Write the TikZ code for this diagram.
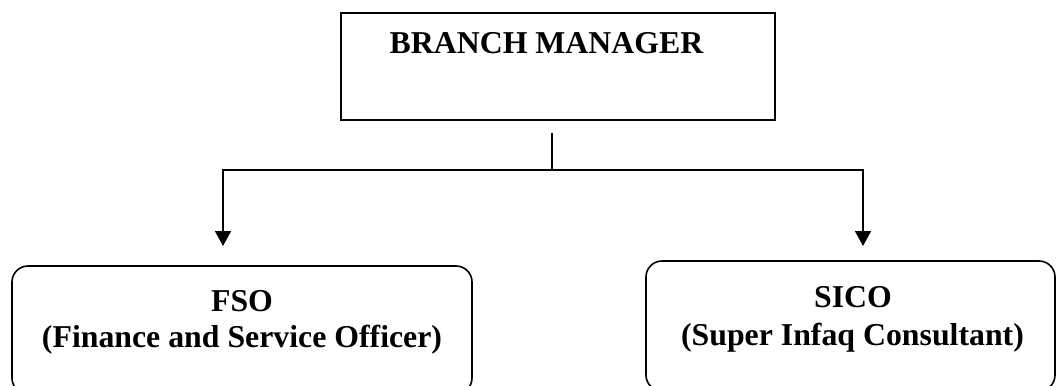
\documentclass[tikz,border=0pt]{standalone}
\usepackage{fontspec}
\setmainfont{Liberation Serif}
\usetikzlibrary{arrows.meta}
\begin{document}
\begin{tikzpicture}[x=1pt,y=-1pt,
  boxline/.style={draw=black, line width=1.6pt, inner sep=0pt, outer sep=0pt},
  roundbox/.style={boxline, rounded corners=16pt},
  lbl/.style={font=\fontsize{31.8}{36}\selectfont\bfseries, inner sep=0pt, anchor=base},
  conn/.style={line width=1.6pt},
  arr/.style={conn, -{Triangle[length=15pt,width=16pt]}}]
\useasboundingbox (0,0) rectangle (1056,385);
\clip (0,0) rectangle (1056,385);
% boxes
\node[boxline, minimum width=434pt, minimum height=107pt] (bm) at (558,66.5) {};
\node[lbl] (bmt) at (546.5,54) {BRANCH MANAGER};
\node[roundbox, minimum width=460pt, minimum height=128pt] (fso) at (242,330) {};
\node[lbl] (fso1) at (242,311) {FSO};
\node[lbl] (fso2) at (242,347) {(Finance and Service Officer)};
\node[roundbox, minimum width=409pt, minimum height=130pt] (sico) at (850.5,326) {};
\node[lbl] (sico1) at (853,307) {SICO};
\node[lbl] (sico2) at (852.5,345) {(Super Infaq Consultant)};
% connectors
\coordinate (top) at (552,133);
\coordinate (hub) at (552,170);
\coordinate (la) at (223,246);
\coordinate (ra) at (863,246);
\draw[conn] (top) -- (hub);
\draw[arr] (hub) -| (la);
\draw[arr] (hub) -| (ra);
\end{tikzpicture}
\end{document}
